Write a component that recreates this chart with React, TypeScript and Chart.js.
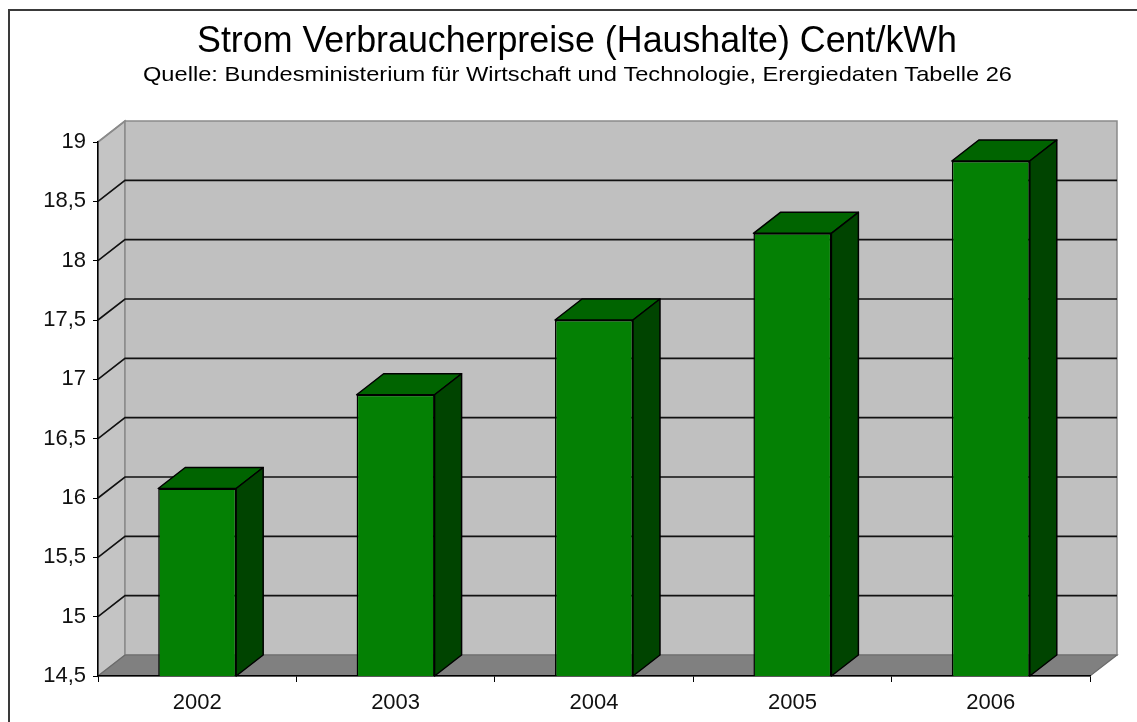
import React, { useEffect, useRef } from 'react';
import { Chart, registerables } from 'chart.js';

Chart.register(...registerables);

// ---- data ----
const categories: string[] = ['2002', '2003', '2004', '2005', '2006'];
const prices: number[] = [16.08, 16.87, 17.5, 18.23, 18.84];
const yMin = 14.5;
const yMax = 19;
const yStep = 0.5;
const titleText = 'Strom Verbraucherpreise (Haushalte) Cent/kWh';
const subtitleText =
  'Quelle: Bundesministerium für Wirtschaft und Technologie, Erergiedaten Tabelle 26';

// ---- 3D look (styles) ----
const DX = 27;
const DY = 21;
const FONT = '"Liberation Sans", Arial, Helvetica, sans-serif';

function poly(ctx: CanvasRenderingContext2D, pts: number[][]) {
  ctx.beginPath();
  ctx.moveTo(pts[0][0], pts[0][1]);
  for (let i = 1; i < pts.length; i++) ctx.lineTo(pts[i][0], pts[i][1]);
  ctx.closePath();
}

function fitText(
  ctx: CanvasRenderingContext2D,
  text: string,
  size: number,
  cx: number,
  cy: number,
  targetW: number
) {
  ctx.save();
  ctx.font = `${size}px ${FONT}`;
  const w = ctx.measureText(text).width;
  ctx.translate(cx, cy);
  ctx.scale(targetW / w, 1);
  ctx.fillStyle = '#000000';
  ctx.textAlign = 'center';
  ctx.textBaseline = 'middle';
  ctx.fillText(text, 0, 0);
  ctx.restore();
}

const threeDPlugin = {
  id: 'threeD',
  beforeDraw(chart: any) {
    const { ctx, chartArea: a, scales } = chart;
    const y = scales.y;
    ctx.save();
    ctx.fillStyle = '#ffffff';
    ctx.fillRect(0, 0, chart.width, chart.height);
    // outer frame
    ctx.strokeStyle = '#3a3a3a';
    ctx.lineWidth = 2;
    ctx.beginPath();
    ctx.moveTo(9, chart.height);
    ctx.lineTo(9, 10);
    ctx.lineTo(chart.width, 10);
    ctx.stroke();

    // side wall
    ctx.fillStyle = '#c4c4c4';
    poly(ctx, [
      [a.left, a.top],
      [a.left + DX, a.top - DY],
      [a.left + DX, a.bottom - DY],
      [a.left, a.bottom],
    ]);
    ctx.fill();
    ctx.strokeStyle = '#8a8a8a';
    ctx.lineWidth = 1.5;
    ctx.stroke();

    // back wall
    ctx.fillStyle = '#c0c0c0';
    ctx.fillRect(a.left + DX, a.top - DY, a.right - a.left, a.bottom - a.top);
    ctx.strokeStyle = '#8a8a8a';
    ctx.lineWidth = 1.5;
    ctx.strokeRect(a.left + DX, a.top - DY, a.right - a.left, a.bottom - a.top);

    // floor
    ctx.fillStyle = '#808080';
    poly(ctx, [
      [a.left, a.bottom],
      [a.left + DX, a.bottom - DY],
      [a.right + DX, a.bottom - DY],
      [a.right, a.bottom],
    ]);
    ctx.fill();
    ctx.strokeStyle = '#6a6a6a';
    ctx.lineWidth = 1.2;
    ctx.stroke();

    // gridlines on side and back wall
    ctx.strokeStyle = '#111111';
    ctx.lineWidth = 1.6;
    y.ticks.forEach((t: any) => {
      if (t.value <= yMin || t.value >= yMax) return;
      const py = y.getPixelForValue(t.value);
      ctx.beginPath();
      ctx.moveTo(a.left, py);
      ctx.lineTo(a.left + DX, py - DY);
      ctx.lineTo(a.right + DX, py - DY);
      ctx.stroke();
    });
    const pTop = y.getPixelForValue(yMax);
    ctx.strokeStyle = '#8a8a8a';
    ctx.beginPath();
    ctx.moveTo(a.left, pTop);
    ctx.lineTo(a.left + DX, pTop - DY);
    ctx.stroke();
    ctx.restore();
  },
  afterDatasetsDraw(chart: any) {
    const { ctx, chartArea: a } = chart;
    const meta = chart.getDatasetMeta(0);
    ctx.save();
    ctx.lineJoin = 'round';
    meta.data.forEach((bar: any) => {
      const { x, y, width } = bar.getProps(['x', 'y', 'width'], true);
      const base = Math.min(bar.base, a.bottom);
      const l = x - width / 2;
      const r = x + width / 2;
      ctx.strokeStyle = '#000000';
      ctx.lineWidth = 1.5;
      ctx.fillStyle = '#006400';
      poly(ctx, [
        [l, y],
        [l + DX, y - DY],
        [r + DX, y - DY],
        [r, y],
      ]);
      ctx.fill();
      ctx.stroke();
      ctx.fillStyle = '#004400';
      poly(ctx, [
        [r, y],
        [r + DX, y - DY],
        [r + DX, base - DY],
        [r, base],
      ]);
      ctx.fill();
      ctx.stroke();
    });
    ctx.restore();
  },
  afterDraw(chart: any) {
    const { ctx } = chart;
    fitText(ctx, titleText, 37, 577, 42, 760);
    fitText(ctx, subtitleText, 21, 577.5, 75, 869);
  },
};

export default function App() {
  const canvasRef = useRef<HTMLCanvasElement | null>(null);

  useEffect(() => {
    if (!canvasRef.current) return;
    const chart = new Chart(canvasRef.current, {
      type: 'bar',
      data: {
        labels: categories,
        datasets: [
          {
            label: 'Cent/kWh',
            data: prices,
            backgroundColor: '#048004',
            borderColor: '#000000',
            borderWidth: 1.5,
            borderSkipped: false,
            categoryPercentage: 1,
            barPercentage: 0.393,
          },
        ],
      },
      options: {
        responsive: false,
        devicePixelRatio: 1,
        animation: false,
        layout: { padding: { left: 8, right: 47, top: 142, bottom: 0 } },
        plugins: {
          legend: { display: false },
          tooltip: { enabled: false },
          title: { display: false },
          subtitle: { display: false },
        },
        scales: {
          x: {
            grid: {
              display: true,
              drawOnChartArea: false,
              drawTicks: true,
              tickLength: 6,
              color: '#000000',
              offset: true,
            },
            border: { display: true, color: '#000000', width: 1.5 },
            ticks: {
              color: '#111111',
              font: { family: FONT, size: 22 },
              padding: 8,
              maxRotation: 0,
            },
            afterFit: (scale: any) => {
              scale.height = 46;
            },
          },
          y: {
            min: yMin,
            max: yMax,
            grid: {
              display: true,
              drawOnChartArea: false,
              drawTicks: true,
              tickLength: 5,
              color: '#000000',
            },
            border: { display: true, color: '#000000', width: 1.5 },
            ticks: {
              stepSize: yStep,
              color: '#111111',
              font: { family: FONT, size: 22 },
              padding: 7,
              callback: (v: any) => String(Number(v)).replace('.', ','),
            },
            afterFit: (scale: any) => {
              scale.width = 90;
            },
          },
        },
      },
      plugins: [threeDPlugin],
    });
    return () => chart.destroy();
  }, []);

  return (
    <div style={{ position: 'fixed', left: 0, top: 0, width: 1137, height: 722, background: '#fff' }}>
      <canvas ref={canvasRef} width={1137} height={722} style={{ display: 'block' }} />
    </div>
  );
}
